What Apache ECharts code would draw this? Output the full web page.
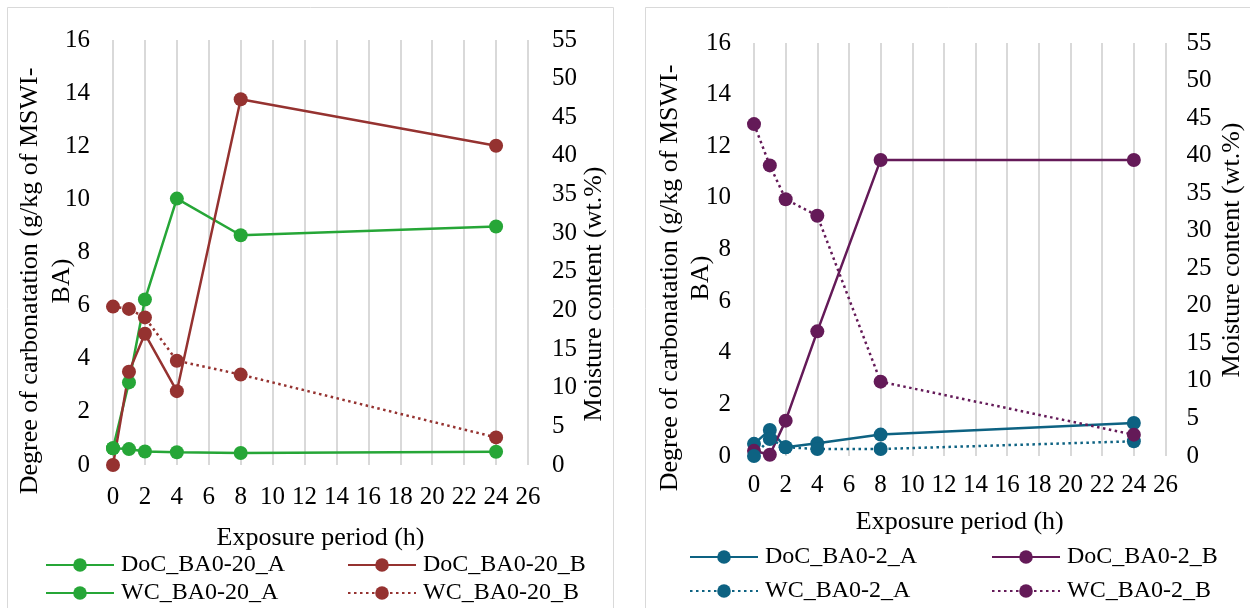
<!DOCTYPE html>
<html>
<head>
<meta charset="utf-8">
<script src="https://cdn.jsdelivr.net/npm/echarts@6/dist/echarts.min.js"></script>
<style>
  html, body { margin: 0; padding: 0; background: #fff; }
  #chart { width: 1250px; height: 608px; }
</style>
</head>
<body>
<div id="chart"></div>
<script>
// ---- data ----
const hours = [0, 1, 2, 4, 8, 24];
const xTicks = [0, 2, 4, 6, 8, 10, 12, 14, 16, 18, 20, 22, 24, 26];

// Left panel (BA0-20)
const docBA020A = [0.63, 3.11, 6.23, 10.03, 8.65, 8.98];
const docBA020B = [0, 3.51, 4.94, 2.78, 13.77, 12.02];
const wcBA020A = [2.17, 2.06, 1.75, 1.65, 1.55, 1.72];
const wcBA020B = [20.5, 20.2, 19.1, 13.5, 11.7, 3.57];

// Right panel (BA0-2)
const docBA02A = [0.47, 1.01, 0.34, 0.49, 0.83, 1.28];
const docBA02B = [0.2, 0.05, 1.37, 4.83, 11.47, 11.47];
const wcBA02A = [0, 2.27, 1.17, 0.93, 0.93, 1.96];
const wcBA02B = [44.2, 38.7, 34.2, 32.0, 9.9, 2.84];

const names = {
  l: ['DoC_BA0-20_A', 'DoC_BA0-20_B', 'WC_BA0-20_A', 'WC_BA0-20_B'],
  r: ['DoC_BA0-2_A', 'DoC_BA0-2_B', 'WC_BA0-2_A', 'WC_BA0-2_B']
};
const xTitle = 'Exposure period (h)';
const yLeftTitle = 'Degree of carbonatation (g/kg of MSWI-\nBA)';
const yRightTitle = 'Moisture content (wt.%)';

// ---- styling ----
const FONT = '"Liberation Serif", "Times New Roman", serif';
const GREEN = '#26A637';
const RED = '#953230';
const TEAL = '#0D6282';
const PURPLE = '#641A58';
const GRID = '#D9D9D9';

function pairs(xs, ys) { return xs.map((x, i) => [x, ys[i]]); }

function xAxis(gridIndex, nameGap, margin) {
  return {
    type: 'value', gridIndex, min: 0, max: 26, interval: 2,
    name: xTitle, nameLocation: 'middle', nameGap,
    nameTextStyle: { fontFamily: FONT, fontSize: 26, color: '#000' },
    axisLine: { show: false }, axisTick: { show: false },
    axisLabel: { fontFamily: FONT, fontSize: 25, color: '#000', margin },
    splitLine: { show: true, lineStyle: { color: GRID, width: 2 } }
  };
}
function yAxis(gridIndex, max, interval, position, margin) {
  return {
    type: 'value', gridIndex, min: 0, max, interval, position,
    axisLine: { show: false }, axisTick: { show: false },
    axisLabel: { fontFamily: FONT, fontSize: 25, color: '#000', margin },
    splitLine: { show: false }
  };
}
function line(name, data, color, xi, yi, dotted) {
  return {
    name, type: 'line', xAxisIndex: xi, yAxisIndex: yi,
    data, symbol: 'circle', symbolSize: 14, showSymbol: true,
    itemStyle: { color },
    lineStyle: { color, width: 2.5, type: dotted ? [2.5, 3.5] : 'solid' },
    emphasis: { disabled: true }, animation: false
  };
}
function legend(data, left, top, gap) {
  return {
    data, left, top, orient: 'vertical', padding: 0, itemGap: gap,
    itemWidth: 68, itemHeight: 17, selectedMode: false,
    textStyle: { fontFamily: FONT, fontSize: 24, color: '#000', padding: [0, 0, 0, 2] }
  };
}

const chart = echarts.init(document.getElementById('chart'), null, { renderer: 'canvas' });
chart.setOption({
  backgroundColor: '#fff',
  animation: false,
  grid: [
    { left: 113, top: 40, width: 415, height: 425 },
    { left: 754, top: 43, width: 411.5, height: 413 }
  ],
  xAxis: [xAxis(0, 60, 20), xAxis(1, 53, 17)],
  yAxis: [
    yAxis(0, 16, 2, 'left', 23),
    yAxis(0, 55, 5, 'right', 24),
    yAxis(1, 16, 2, 'left', 23),
    yAxis(1, 55, 5, 'right', 21)
  ],
  legend: [
    legend([names.l[0], names.l[2]], 45, 553, 4),
    legend([names.l[1], names.l[3]], 347, 553, 4),
    legend([names.r[0], names.r[2]], 689, 545, 10),
    legend([names.r[1], names.r[3]], 991, 545, 10)
  ],
  series: [
    line(names.l[0], pairs(hours, docBA020A), GREEN, 0, 0, false),
    line(names.l[1], pairs(hours, docBA020B), RED, 0, 0, false),
    line(names.l[2], pairs(hours, wcBA020A), GREEN, 0, 1, false),
    line(names.l[3], pairs(hours, wcBA020B), RED, 0, 1, true),
    line(names.r[0], pairs(hours, docBA02A), TEAL, 1, 2, false),
    line(names.r[1], pairs(hours, docBA02B), PURPLE, 1, 2, false),
    line(names.r[2], pairs(hours, wcBA02A), TEAL, 1, 3, true),
    line(names.r[3], pairs(hours, wcBA02B), PURPLE, 1, 3, true)
  ],
  graphic: [
    { type: 'rect', silent: true, shape: { x: 7.5, y: 7.5, width: 606, height: 640 },
      style: { fill: 'none', stroke: GRID, lineWidth: 1 } },
    { type: 'rect', silent: true, shape: { x: 645.5, y: 7.5, width: 640, height: 640 },
      style: { fill: 'none', stroke: GRID, lineWidth: 1 } },
    { type: 'text', silent: true, x: 46, y: 281, rotation: Math.PI / 2,
      style: { text: yLeftTitle, font: '26px ' + FONT, fill: '#000', align: 'center',
               verticalAlign: 'middle', lineHeight: 32 } },
    { type: 'text', silent: true, x: 594, y: 294, rotation: Math.PI / 2,
      style: { text: yRightTitle, font: '26px ' + FONT, fill: '#000', align: 'center',
               verticalAlign: 'middle' } },
    { type: 'text', silent: true, x: 686, y: 278, rotation: Math.PI / 2,
      style: { text: yLeftTitle, font: '26px ' + FONT, fill: '#000', align: 'center',
               verticalAlign: 'middle', lineHeight: 31 } },
    { type: 'text', silent: true, x: 1232, y: 250, rotation: Math.PI / 2,
      style: { text: yRightTitle, font: '26px ' + FONT, fill: '#000', align: 'center',
               verticalAlign: 'middle' } }
  ]
});
</script>
</body>
</html>
